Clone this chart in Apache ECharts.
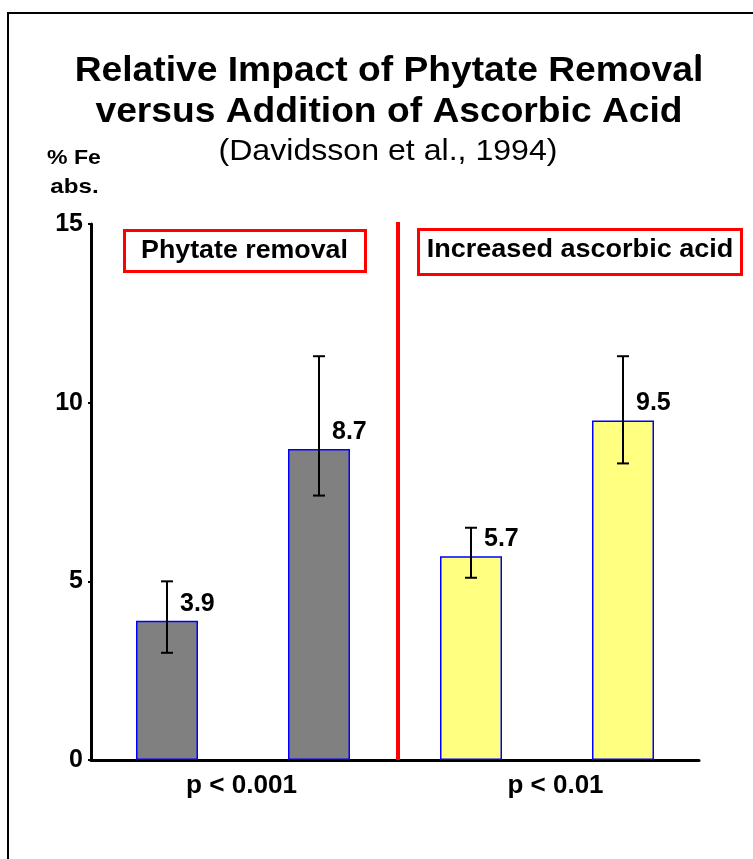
<!DOCTYPE html>
<html>
<head>
<meta charset="utf-8">
<script src="https://cdn.jsdelivr.net/npm/echarts@6/dist/echarts.min.js"></script>
<style>
  html, body { margin: 0; padding: 0; background: #fff; }
  #chart { width: 753px; height: 859px; }
</style>
</head>
<body>
<div id="chart"></div>
<script>
// groups: phytate (before/after removal), ascorbic acid (low/increased)
const categories = ['Native phytate', 'Phytate removed', 'Low ascorbic acid', 'Increased ascorbic acid'];
const feAbs = [3.9, 8.7, 5.7, 9.5];
const errLow = [3.0, 7.4, 5.1, 8.3];
const errHigh = [5.0, 11.3, 6.5, 11.3];
const barColors = ['#808080', '#808080', '#ffff80', '#ffff80'];
const yTicks = [0, 5, 10, 15];

const FONT = '"Liberation Sans", Arial, sans-serif';

let chartDom = document.getElementById('chart');
let chart = echarts.init(chartDom);

function txt(x, y, text, size, weight, sx) {
  return {
    type: 'text',
    x: x,
    y: y,
    scaleX: sx || 1,
    style: {
      text: text,
      fill: '#000',
      font: weight + ' ' + size + 'px ' + FONT,
      align: 'center',
      verticalAlign: 'middle',
    },
  };
}

let option = {
  backgroundColor: '#fff',
  animation: false,
  grid: {
    left: 91,
    right: 54,
    top: 224,
    bottom: 99,
  },
  xAxis: {
    type: 'category',
    data: categories,
    axisLine: { lineStyle: { color: '#000', width: 3 } },
    axisTick: { show: false },
    axisLabel: { show: false },
  },
  yAxis: {
    type: 'value',
    min: yTicks[0],
    max: yTicks[yTicks.length - 1],
    interval: 5,
    axisLine: { show: true, lineStyle: { color: '#000', width: 3 } },
    axisTick: { show: true, length: 3, lineStyle: { color: '#000', width: 2 } },
    axisLabel: {
      color: '#000',
      fontFamily: FONT,
      fontWeight: 'bold',
      fontSize: 25,
      margin: 8,
    },
    splitLine: { show: false },
  },
  series: [
    {
      type: 'bar',
      barWidth: 62,
      data: feAbs.map((v, i) => ({
        value: v,
        itemStyle: { color: barColors[i] },
      })),
      itemStyle: { borderColor: '#0000ff', borderWidth: 1.5 },
      label: {
        show: true,
        position: 'top',
        distance: 17,
        align: 'left',
        verticalAlign: 'middle',
        offset: [13, 0],
        color: '#000',
        fontFamily: FONT,
        fontWeight: 'bold',
        fontSize: 25,
      },
      z: 2,
    },
    {
      type: 'custom',
      data: categories.map((c, i) => [i, errLow[i], errHigh[i]]),
      renderItem: (params, api) => {
        let lo = api.coord([api.value(0), api.value(1)]);
        let hi = api.coord([api.value(0), api.value(2)]);
        let w = 6;
        let st = { stroke: '#000', lineWidth: 2 };
        return {
          type: 'group',
          children: [
            { type: 'line', shape: { x1: lo[0], y1: lo[1], x2: hi[0], y2: hi[1] }, style: st },
            { type: 'line', shape: { x1: lo[0] - w, y1: lo[1], x2: lo[0] + w, y2: lo[1] }, style: st },
            { type: 'line', shape: { x1: hi[0] - w, y1: hi[1], x2: hi[0] + w, y2: hi[1] }, style: st },
          ],
        };
      },
      z: 3,
    },
  ],
  graphic: [
    // page frame
    { type: 'polyline', shape: { points: [[8, 859], [8, 13], [753, 13]] }, style: { stroke: '#000', lineWidth: 2, fill: null } },
    { type: 'rect', shape: { x: 696, y: 54, width: 4, height: 5 }, style: { fill: '#111' } },
    // titles
    txt(389, 71, 'Relative Impact of Phytate Removal', 35, 'bold', 1.063),
    txt(389, 112, 'versus Addition of Ascorbic Acid', 35, 'bold', 1.063),
    txt(388, 152, '(Davidsson et al., 1994)', 29, 'normal', 1.107),
    txt(74, 158, '% Fe', 21, 'bold', 1.1),
    txt(74.5, 187, 'abs.', 21, 'bold', 1.15),
    // divider
    { type: 'line', shape: { x1: 398, y1: 222, x2: 398, y2: 760 }, style: { stroke: '#ff0000', lineWidth: 4 }, z: 5 },
    // group boxes
    { type: 'rect', shape: { x: 124.5, y: 230.5, width: 241, height: 41 }, style: { stroke: '#ff0000', lineWidth: 3, fill: '#fff' } },
    txt(244.5, 251, 'Phytate removal', 26, 'bold', 1.03),
    { type: 'rect', shape: { x: 418.5, y: 229.5, width: 323, height: 45 }, style: { stroke: '#ff0000', lineWidth: 3, fill: '#fff' } },
    txt(580, 250, 'Increased ascorbic acid', 26, 'bold', 1.04),
    // significance
    txt(241.5, 786, 'p < 0.001', 25, 'bold', 1.045),
    txt(555.5, 786, 'p < 0.01', 25, 'bold', 1.04),
  ],
};

chart.setOption(option);
</script>
</body>
</html>
